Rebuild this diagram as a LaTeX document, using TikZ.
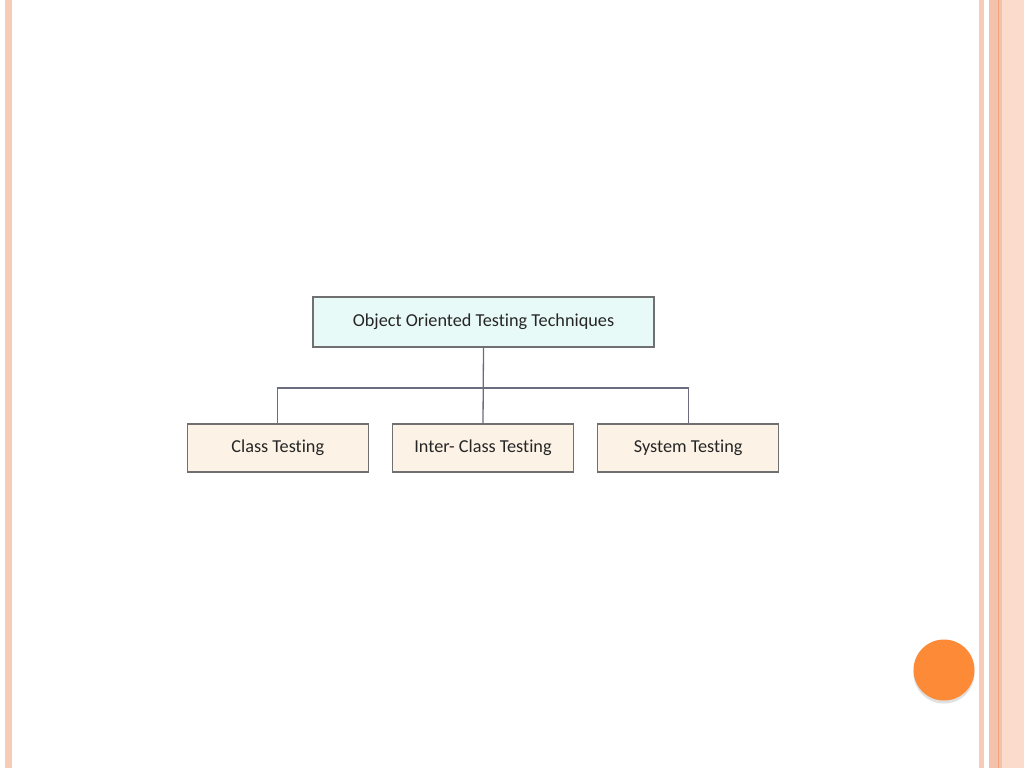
\documentclass[tikz,border=0pt]{standalone}
\usepackage{fontspec}
\setmainfont{Carlito}[Ligatures = {NoCommon}]
\usetikzlibrary{positioning,shadows}
\definecolor{stripe}{HTML}{F8CBB6}
\definecolor{stripedark}{HTML}{F2C2AC}
\definecolor{stripeline}{HTML}{F3A27A}
\definecolor{headfill}{HTML}{E8FAF7}
\definecolor{leaffill}{HTML}{FCF3E6}
\definecolor{boxline}{HTML}{707070}
\definecolor{wire}{HTML}{6C6C80}
\definecolor{dot}{HTML}{FD8A36}
\begin{document}
\begin{tikzpicture}[
					x = 1bp, y = -1bp,
					every node/.style = {font = \fontsize{18.3}{21}\selectfont, text = black!85},
					headbox/.style = {draw = boxline, line width = 1.2bp, fill = headfill, minimum width = 341bp, minimum height = 50bp, inner sep = 0pt},
					leafbox/.style = {draw = boxline, line width = 1.2bp, fill = leaffill, minimum width = 181bp, minimum height = 48bp, inner sep = 0pt},
					link/.style = {draw = wire, line width = 1.3bp}
					]

					\useasboundingbox[fill=white] (0,0) rectangle (1024,768);

					\fill[stripe] (5,0) rectangle (12,768);
					\fill[stripe] (979,0) rectangle (984,768);
					\fill[stripedark] (989,0) rectangle (1024,768);
					\fill[stripe!70!white] (1002,0) rectangle (1024,768);
					\fill[stripeline] (997.5,0) rectangle (999,768);

					\node[headbox] (oot) at (483.5,322) {Object Oriented Testing Techniques};

					\node[leafbox] (inter) at (483,448) {Inter- Class Testing};
					\node[leafbox, left = 23bp of inter] (class) {Class Testing};
					\node[leafbox, right = 23bp of inter] (system) {System Testing};

					\coordinate (bus) at (483,388);
					\draw[link] (oot.south) -- (inter.north);
					\draw[link] (class.north) |- (bus) -| (system.north);

					\node[circle, fill = dot, minimum size = 61bp, drop shadow = {shadow xshift = 0bp, shadow yshift = -3bp, opacity = 0.25}] (dot) at (944,670) {};

				\end{tikzpicture}
\end{document}
